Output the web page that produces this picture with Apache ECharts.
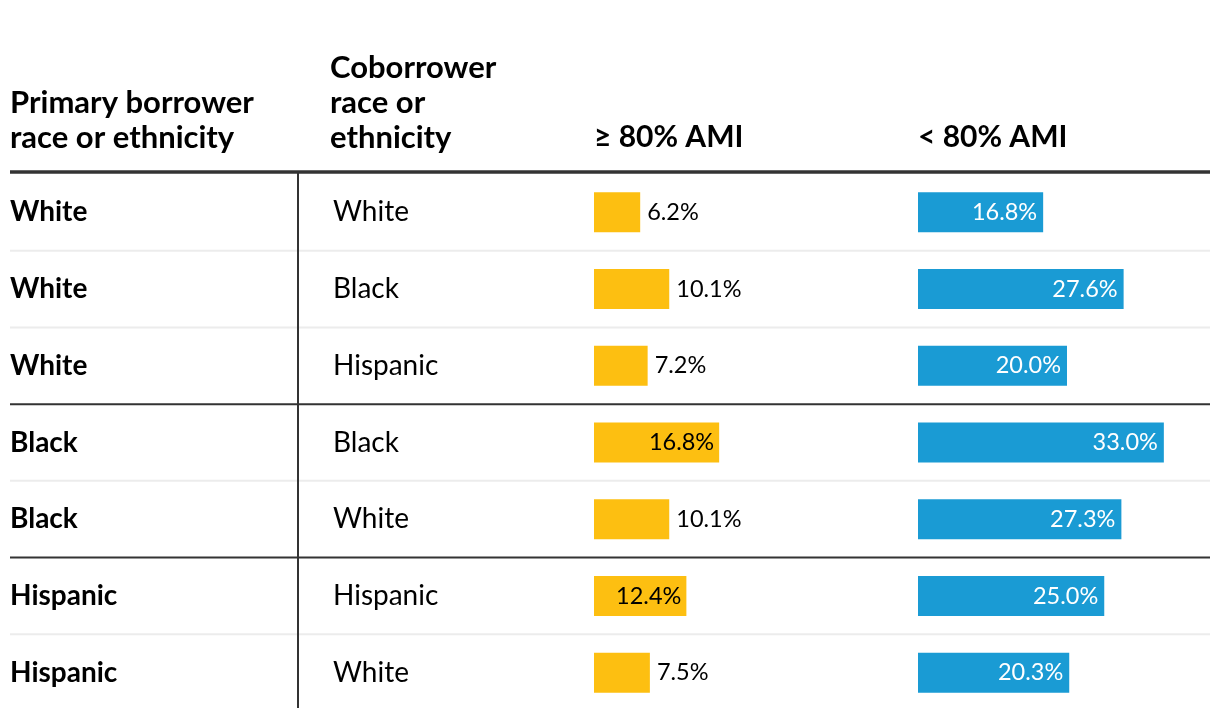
<!DOCTYPE html>
<html>
<head>
<meta charset="utf-8">
<script src="https://cdn.jsdelivr.net/npm/echarts@6/dist/echarts.min.js"></script>
<style>
html,body{margin:0;padding:0;background:#fff;}
#c{width:1220px;height:718px;}
</style>
</head>
<body>
<div id="c"></div>
<script>
// ---- data ----
var primary = ['White','White','White','Black','Black','Hispanic','Hispanic'];
var coborrower = ['White','Black','Hispanic','Black','White','Hispanic','White'];
var above80 = [6.2,10.1,7.2,16.8,10.1,12.4,7.5];
var below80 = [16.8,27.6,20.0,33.0,27.3,25.0,20.3];
var headers = ['Primary borrower\nrace or ethnicity','Coborrower\nrace or\nethnicity','\u2265 80% AMI','< 80% AMI'];

var cats = primary.map(function(p,i){return p+'|'+coborrower[i];});
var FONT = 'Lato, "Open Sans", sans-serif';
var YELLOW = '#fdbf11', BLUE = '#1a9bd4', DARK = '#333333', LIGHT = '#ececec';
var INSIDE_MIN = 12;
var fmt = function(v){return v.toFixed(1)+'%';};

var gridTop = 174, gridH = 537;

function yellowData(){
  return above80.map(function(v){
    var inside = v >= INSIDE_MIN;
    return {value:v, label:{position: inside?'insideRight':'right', distance: inside?5:7, color:'#000'}};
  });
}

var chart = echarts.init(document.getElementById('c'), null, {renderer:'canvas'});

function headerTitle(text, left, lines, size){
  return {
    text: text, left: left, top: 120 - (lines-1)*35, padding: 0,
    textStyle: {fontFamily: FONT, fontWeight: 'bold', fontSize: size, lineHeight: 35, color: '#000'}
  };
}

chart.setOption({
  animation: false,
  backgroundColor: '#fff',
  title: [
    headerTitle(headers[0], 10, 2, 31),
    headerTitle(headers[1], 330, 3, 31),
    headerTitle(headers[2], 594, 1, 30),
    headerTitle(headers[3], 918, 1, 30)
  ],
  grid: [
    {left: 594, top: gridTop, width: 298, height: gridH, outerBoundsMode: 'none', containLabel: false},
    {left: 918, top: gridTop, width: 298, height: gridH, outerBoundsMode: 'none', containLabel: false}
  ],
  xAxis: [
    {gridIndex:0, type:'value', min:0, max:40, show:false},
    {gridIndex:1, type:'value', min:0, max:40, show:false}
  ],
  yAxis: [
    {gridIndex:0, type:'category', data: cats, inverse:true,
      axisLine:{show:false}, axisTick:{show:false}, splitLine:{show:false},
      axisLabel:{
        interval:0, align:'left', margin: 584,
        formatter: function(v){var s=v.split('|'); return '{p|'+s[0]+'}{c|'+s[1]+'}';},
        rich:{
          p:{fontFamily:FONT, fontWeight:'bold', fontSize:28, color:'#000', width:323, align:'left'},
          c:{fontFamily:FONT, fontSize:28, color:'#000', align:'left'}
        }
      }},
    {gridIndex:1, type:'category', data: cats, inverse:true, show:false}
  ],
  series: [
    {type:'bar', xAxisIndex:0, yAxisIndex:0, data: yellowData(), barWidth:40,
      itemStyle:{color:YELLOW},
      label:{show:true, formatter:function(p){return fmt(p.value);}, fontFamily:FONT, fontSize:23.5, color:'#000'}},
    {type:'bar', xAxisIndex:1, yAxisIndex:1, data: below80, barWidth:40,
      itemStyle:{color:BLUE},
      label:{show:true, position:'insideRight', distance:6, formatter:function(p){return fmt(p.value);}, fontFamily:FONT, fontSize:23.5, color:'#fff'}}
  ]
});

// separators derived from the category axis
var g = [];
var yc = cats.map(function(c,i){return chart.convertToPixel({yAxisIndex:0}, i);});
var band = yc.length>1 ? (yc[1]-yc[0]) : 76;
var headerY = yc[0] - band/2 - 2;
for (var i=0;i<cats.length-1;i++){
  var y = (yc[i]+yc[i+1])/2;
  var dark = primary[i] !== primary[i+1];
  g.push({type:'line', shape:{x1:10,y1:y,x2:1210,y2:y}, style:{stroke: dark?DARK:LIGHT, lineWidth:2}, z: dark?10:5});
}
g.push({type:'line', shape:{x1:298,y1:headerY,x2:298,y2:708}, style:{stroke:DARK, lineWidth:2}, z:10});
g.push({type:'line', shape:{x1:10,y1:headerY,x2:1210,y2:headerY}, style:{stroke:DARK, lineWidth:3.5}, z:11});
chart.setOption({graphic: g});
</script>
</body>
</html>
